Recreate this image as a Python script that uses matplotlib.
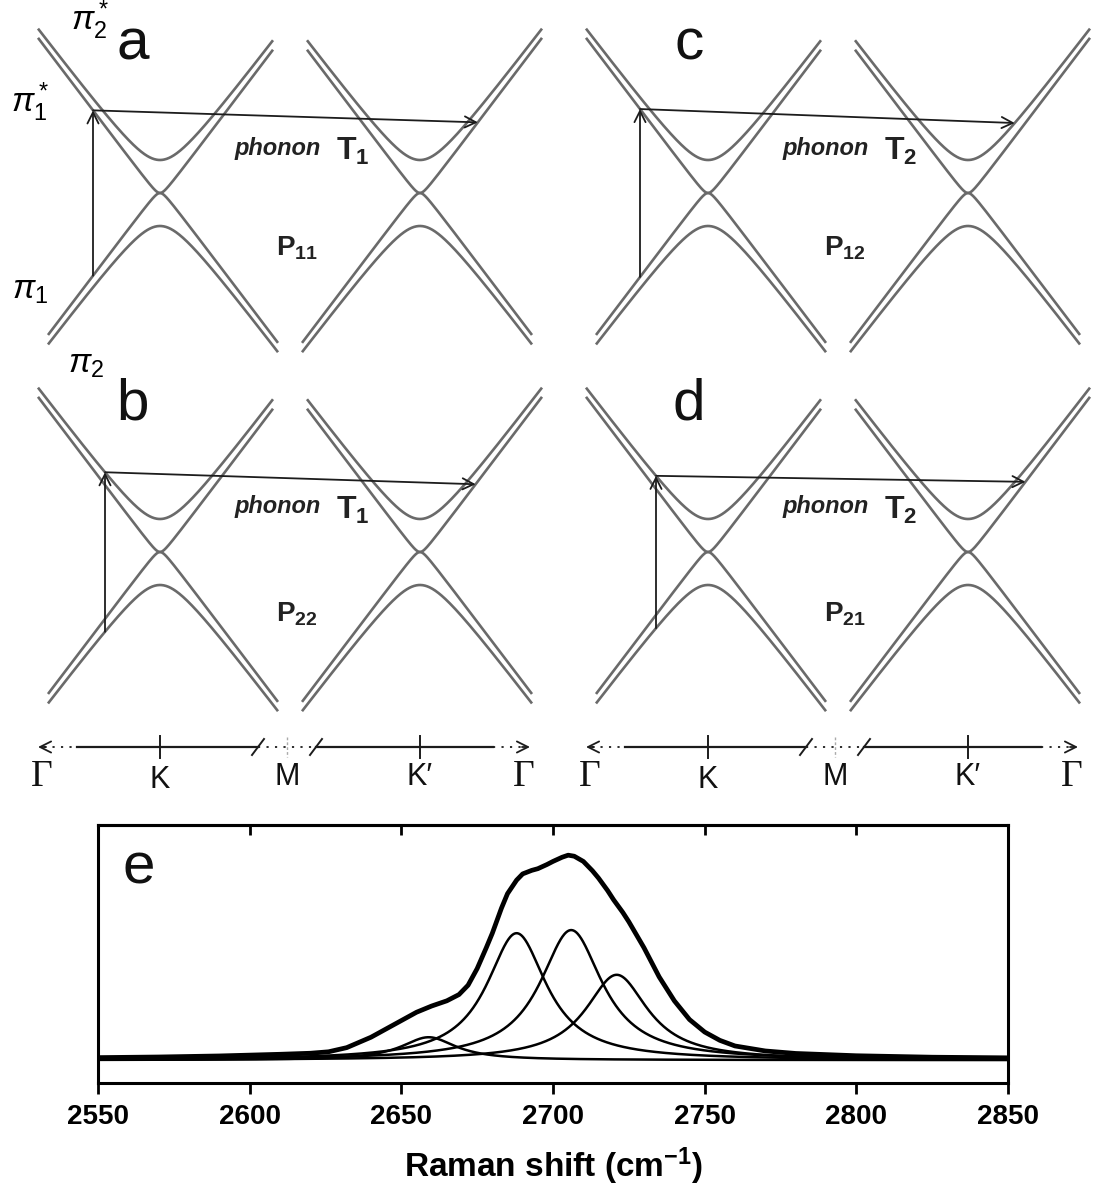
import numpy as np
import matplotlib
matplotlib.use("Agg")
import matplotlib.pyplot as plt

plt.rcParams['font.family'] = ['Liberation Sans', 'DejaVu Sans']
plt.rcParams['mathtext.fontset'] = 'custom'
plt.rcParams['mathtext.rm'] = 'Liberation Sans'
plt.rcParams['mathtext.it'] = 'Liberation Sans:italic'
plt.rcParams['mathtext.bf'] = 'Liberation Sans:bold'

# --- Raman 2D band, measured (normalised intensity)
raman_x = [2550, 2570, 2590, 2600, 2610, 2620, 2626, 2632, 2640, 2645, 2650,
           2655, 2660, 2665, 2669, 2672, 2675, 2678, 2680, 2683, 2685, 2688,
           2690, 2693, 2695, 2698, 2700, 2703, 2705, 2707, 2710, 2713, 2715,
           2718, 2720, 2723, 2725, 2730, 2735, 2740, 2745, 2750, 2755, 2760,
           2770, 2780, 2800, 2825, 2850]
raman_y = [0.012, 0.015, 0.02, 0.024, 0.028, 0.033, 0.04, 0.06, 0.11, 0.15, 0.19,
           0.23, 0.26, 0.285, 0.315, 0.36, 0.44, 0.54, 0.61, 0.73, 0.8, 0.865,
           0.895, 0.912, 0.92, 0.94, 0.955, 0.975, 0.985, 0.98, 0.955, 0.91, 0.875,
           0.815, 0.77, 0.71, 0.665, 0.54, 0.4, 0.285, 0.195, 0.135, 0.095, 0.068,
           0.044, 0.032, 0.021, 0.014, 0.011]
# Lorentzian components of the fit (position cm-1, height, half width)
peak_pos = [2659, 2688, 2706, 2721]
peak_height = [0.11, 0.61, 0.625, 0.41]
peak_hwhm = [11.0, 12.0, 12.5, 12.5]
raman_ticks = [2550, 2600, 2650, 2700, 2750, 2800, 2850]

# --- schematic bilayer bands around K and K' (drawing units = pixels)
split_gap = 33.0      # pi2 / pi2* offset at K
touch_round = 6.0     # rounding of pi1 / pi1* where they touch
band_slope = 1.32
# how far each arm is drawn in k: (upper outer, upper inner, lower outer, lower inner)
arm_extent = (122, 113, 112, 118)

panel_labels = ['a', 'b', 'c', 'd']
process_labels = ['11', '22', '12', '21']
phonon_labels = ['1', '1', '2', '2']
# transition: k of the vertical arrow, lower band, upper band, band hit after the phonon
transitions = [(67, 'pi1', 'pi1s', 'pi1s'),
               (55, 'pi2', 'pi2s', 'pi1s'),
               (68, 'pi1', 'pi1s', 'pi2s'),
               (52, 'pi2', 'pi2s', 'pi1s')]
phonon_drop = [12, 12, 14, 6]


def pi2s(k):
    return np.sqrt(split_gap ** 2 + (band_slope * k) ** 2)


def pi1s(k):
    return np.sqrt(touch_round ** 2 + (band_slope * k) ** 2) - touch_round


bands = {'pi2s': lambda k: pi2s(k), 'pi1s': lambda k: pi1s(k),
         'pi1': lambda k: -pi1s(k), 'pi2': lambda k: -pi2s(k)}


def k_at(f, e):
    kk = np.linspace(0, 250, 2000)
    return np.interp(e, f(kk), kk)


fig = plt.figure(figsize=(10.94, 12.04), dpi=100)

# --- top: band diagrams a-d
ax = fig.add_axes([0, 1 - 810 / 1204, 1, 810 / 1204])
ax.set_xlim(0, 1094)
ax.set_ylim(810, 0)
ax.axis('off')

GREY = '#6a6a6a'
INK = '#1c1c1c'

# cone centres per panel: (x of K, x of K', y of Dirac point)
cones = [(160, 420, 193), (160, 420, 552), (708, 968, 193), (708, 968, 552)]
letter_dx = [-27, -27, -19, -19]


def draw_cone(xc, yc, outer):
    up_out, up_in, lo_out, lo_in = arm_extent
    for f, sign, k_out, k_in in ((pi2s, 1, up_out, up_in),
                                 (pi1s, 1, up_out, up_in),
                                 (pi2s, -1, lo_out, lo_in),
                                 (pi1s, -1, lo_out, lo_in)):
        k = np.linspace(outer * k_out, -outer * k_in, 500)
        ax.plot(xc + k, yc - sign * f(k), color=GREY, lw=1.9,
                solid_capstyle='butt')


arrow_kw = dict(arrowstyle='->', color=INK, lw=1.3, mutation_scale=20,
                shrinkA=0, shrinkB=0)

for i, (xk, xk2, yc) in enumerate(cones):
    draw_cone(xk, yc, -1)
    draw_cone(xk2, yc, 1)

    k0, lo, up, hit = transitions[i]
    x0 = xk - k0
    y_lo = yc - bands[lo](k0)
    y_up = yc - bands[up](k0)
    ax.annotate('', xy=(x0, y_up), xytext=(x0, y_lo), arrowprops=arrow_kw)
    e_end = bands[up](k0) - phonon_drop[i]
    k1 = k_at(bands[hit], e_end)
    ax.annotate('', xy=(xk2 + k1, yc - e_end), xytext=(x0, y_up),
                arrowprops=arrow_kw)

    ax.text(xk + letter_dx[i], yc - 148, panel_labels[i], fontsize=42,
            ha='center', va='center', color='#111111')
    ax.text(xk + 118, yc - 45, 'phonon', fontsize=17, style='italic',
            weight='bold', ha='center', va='center', color='#222222')
    ax.text(xk + 193, yc - 42,
            r'$\mathbf{T}_{\mathbf{' + phonon_labels[i] + '}}$',
            fontsize=23, ha='center', va='center', color='#222222')
    ax.text(xk + 137, yc + 55 if i % 2 == 0 else yc + 62,
            r'$\mathbf{P}_{\mathbf{' + process_labels[i] + '}}$',
            fontsize=20, ha='center', va='center', color='#222222')

# band names next to panel a
ax.text(90, 20, r'$\pi_2^*$', fontsize=24, ha='center', va='center')
ax.text(30, 102, r'$\pi_1^*$', fontsize=24, ha='center', va='center')
ax.text(30, 290, r'$\pi_1$', fontsize=24, ha='center', va='center')
ax.text(86, 364, r'$\pi_2$', fontsize=24, ha='center', va='center')

# k-path axis under b and d
y_path = 747
for xk, xk2 in ((160, 420), (708, 968)):
    xm = 0.5 * (xk + xk2) - 3
    g_left, g_right = xk - 122, xk2 + 110
    ax.plot([xk - 83, xk + 98], [y_path, y_path], color=INK, lw=1.6)
    ax.plot([xk2 - 104, xk2 + 73], [y_path, y_path], color=INK, lw=1.6)
    for a, b in ((g_left + 6, xk - 83), (xk + 98, xk2 - 104), (xk2 + 73, g_right - 6)):
        ax.plot([a, b], [y_path, y_path], color=INK, lw=1.3, ls=(0, (1.2, 3.5)))
    for xs in (xk + 98, xk2 - 104):
        ax.plot([xs - 6, xs + 6], [y_path + 8, y_path - 8], color=INK, lw=1.4)
    for xt in (xk, xk2):
        ax.plot([xt, xt], [y_path - 11, y_path + 11], color=INK, lw=1.4)
    ax.plot([xm, xm], [y_path - 10, y_path + 10], color='#aaaaaa', lw=1.0,
            ls=(0, (2, 1.5)))
    ax.annotate('', xy=(g_left, y_path), xytext=(g_left + 8, y_path),
                arrowprops=arrow_kw)
    ax.annotate('', xy=(g_right, y_path), xytext=(g_right - 8, y_path),
                arrowprops=arrow_kw)
    gam = dict(fontsize=27, ha='center', va='center', family='Liberation Serif',
               color='#111111')
    ax.text(g_left + 4, y_path + 30, '\u0393', **gam)
    ax.text(g_right - 6, y_path + 30, '\u0393', **gam)
    lab = dict(fontsize=22, ha='center', va='center', color='#111111')
    ax.text(xk, y_path + 33, 'K', **lab)
    ax.text(xm, y_path + 30, 'M', **lab)
    ax.text(xk2, y_path + 30, 'K\u2032', family=['Liberation Sans', 'DejaVu Sans'], **lab)

# --- bottom: Raman spectrum (e)
ax_e = fig.add_axes([98 / 1094, 1 - 1083 / 1204, 910 / 1094, 258 / 1204])
x = np.linspace(2550, 2850, 1500)
for p, h, w in zip(peak_pos, peak_height, peak_hwhm):
    ax_e.plot(x, h / (1 + ((x - p) / w) ** 2), color='black', lw=1.8)
ax_e.plot(raman_x, raman_y, color='black', lw=3.4, solid_joinstyle='round')

ax_e.set_xlim(2550, 2850)
ax_e.set_ylim(-0.11, 1.13)
ax_e.set_yticks([])
ax_e.set_xticks(raman_ticks)
ax_e.set_xticklabels([str(t) for t in raman_ticks], fontsize=20, weight='bold')
ax_e.tick_params(axis='x', direction='out', length=8, width=2, pad=7)
top = ax_e.secondary_xaxis('top')
top.set_xticks(raman_ticks[1:-1])
top.tick_params(direction='in', length=7, width=2, labeltop=False)
top.spines['top'].set_linewidth(2.2)
for sp in ax_e.spines.values():
    sp.set_linewidth(2.2)
ax_e.set_xlabel('Raman shift (cm$^{\\mathbf{-1}}$)', fontsize=24, weight='bold',
                labelpad=11)
ax_e.text(0.045, 0.83, 'e', transform=ax_e.transAxes, fontsize=42,
          ha='center', va='center', color='#111111')

fig.savefig('out.png', dpi=100)
